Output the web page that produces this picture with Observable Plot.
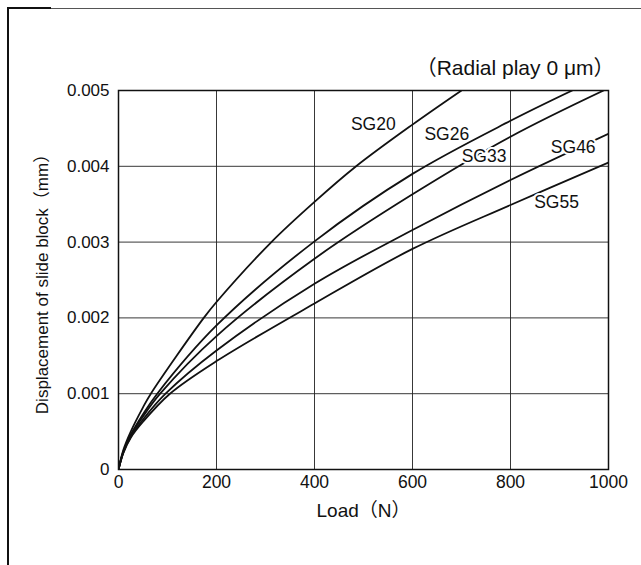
<!DOCTYPE html>
<html>
<head>
<meta charset="utf-8">
<script src="https://cdn.jsdelivr.net/npm/d3@7"></script>
<script src="https://cdn.jsdelivr.net/npm/@observablehq/plot@0.6"></script>
<style>
  html, body { margin: 0; padding: 0; background: #fff; }
  #wrap { position: relative; width: 641px; height: 565px; overflow: hidden; }
  #chart { position: absolute; left: 0; top: 0; z-index: 1; }
  #outer { position: absolute; left: 7px; top: 8px; right: -5px; bottom: -5px; z-index: 2;
           border-left: 2px solid #111; border-top: 1px solid #555; }
  #outerThick { position: absolute; left: 7px; top: 7px; width: 44px; height: 2px; background: #111; z-index: 2; }
</style>
</head>
<body>
<div id="wrap">
  <div id="chart"></div>
  <div id="outer"></div>
  <div id="outerThick"></div>
</div>
<script>
// Series names
const seriesNames = ["SG20", "SG26", "SG33", "SG46", "SG55"];

// Load (N) and displacement (mm), per series
const sg20Load = [0, 10, 25, 50, 66, 174, 200, 312, 400, 485, 600, 700];
const sg20Disp = [0, 0.00026, 0.0005, 0.00082, 0.001, 0.002, 0.00221, 0.003, 0.00353, 0.004, 0.00455, 0.005];

const sg26Load = [0, 10, 25, 50, 79, 200, 400, 600, 800, 926];
const sg26Disp = [0, 0.00024, 0.00046, 0.00073, 0.001, 0.0019, 0.00301, 0.0039, 0.0046, 0.005];

const sg33Load = [0, 10, 25, 50, 85, 200, 400, 600, 800, 990];
const sg33Disp = [0, 0.00023, 0.00045, 0.0007, 0.001, 0.00176, 0.00278, 0.00363, 0.00439, 0.005];

const sg46Load = [0, 10, 25, 50, 96, 200, 400, 600, 800, 1000];
const sg46Disp = [0, 0.00023, 0.00043, 0.00066, 0.001, 0.00157, 0.00245, 0.00316, 0.00382, 0.00443];

const sg55Load = [0, 10, 25, 50, 105, 200, 400, 600, 800, 1000];
const sg55Disp = [0, 0.00022, 0.00042, 0.00063, 0.001, 0.00143, 0.00219, 0.00291, 0.00349, 0.00405];

// Tick values
const xTicks = [0, 200, 400, 600, 800, 1000];
const yTicks = [0, 0.001, 0.002, 0.003, 0.004, 0.005];

// Curve label anchors (in data units)
const labelNames = ["SG20", "SG26", "SG33", "SG46", "SG55"];
const labelLoad = [520, 670, 746, 928, 894];
const labelDisp = [0.00455, 0.00442, 0.00413, 0.004255, 0.00352];

const texts = {
  xLabel: "Load（N）",
  yLabel: "Displacement of slide block（mm）",
  note: "（Radial play 0 μm）"
};

const loads = [sg20Load, sg26Load, sg33Load, sg46Load, sg55Load];
const disps = [sg20Disp, sg26Disp, sg33Disp, sg46Disp, sg55Disp];
const rows = seriesNames.flatMap((s, i) => loads[i].map((x, j) => ({series: s, load: x, disp: disps[i][j]})));
const labels = labelNames.map((s, i) => ({name: s, load: labelLoad[i], disp: labelDisp[i]}));

const font = "'Liberation Sans', Arial, 'Noto Sans CJK JP', sans-serif";

const chart = Plot.plot({
  width: 641,
  height: 565,
  marginLeft: 118,
  marginRight: 33,
  marginTop: 90,
  marginBottom: 96,
  style: {fontFamily: font, color: "#111", background: "white"},
  x: {domain: [0, 1000]},
  y: {domain: [0, 0.005]},
  marks: [
    Plot.gridX(xTicks, {stroke: "#222", strokeOpacity: 0.9, strokeWidth: 1}),
    Plot.gridY(yTicks, {stroke: "#222", strokeOpacity: 0.9, strokeWidth: 1}),
    Plot.line(rows, {x: "load", y: "disp", z: "series", curve: "catmull-rom",
      stroke: "#111", strokeWidth: 1.8, clip: true}),
    Plot.frame({stroke: "#111", strokeWidth: 1.5}),
    Plot.text(labels, {x: "load", y: "disp", text: "name", fontSize: 17.5,
      fill: "#111", stroke: "white", strokeWidth: 4}),
    Plot.axisX(xTicks, {tickSize: 0, tickPadding: 6, fontSize: 17.5, fill: "#111",
      tickFormat: d => String(d), label: null}),
    Plot.axisY(yTicks, {tickSize: 0, tickPadding: 9, fontSize: 17, fill: "#111",
      tickFormat: d => d === 0 ? "0" : d.toFixed(3), label: null}),
    Plot.text([texts.xLabel], {frameAnchor: "bottom", lineAnchor: "middle", dy: 41, fontSize: 19, fill: "#111"}),
    Plot.text([texts.yLabel], {frameAnchor: "left", textAnchor: "middle", lineAnchor: "middle", dx: -76, rotate: -90, fontSize: 17, fill: "#111"}),
    Plot.text([texts.note], {frameAnchor: "top-right", lineAnchor: "middle", dy: -22, dx: 6, textAnchor: "end", fontSize: 21, fill: "#111"})
  ]
});
document.getElementById("chart").appendChild(chart);
</script>
</body>
</html>
